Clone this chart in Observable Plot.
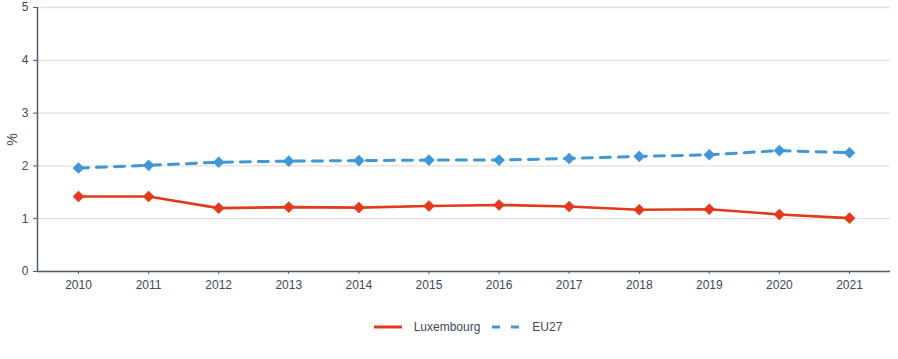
<!DOCTYPE html>
<html>
<head>
<meta charset="utf-8">
<script src="https://cdn.jsdelivr.net/npm/d3@7"></script>
<script src="https://cdn.jsdelivr.net/npm/@observablehq/plot@0.6"></script>
<style>
  html, body { margin: 0; padding: 0; background: #fff; }
  body { width: 898px; height: 359px; overflow: hidden; font-family: "Liberation Sans", Arial, sans-serif; }
  #legend { display: flex; justify-content: center; align-items: center; height: 22px; margin-top: 16px; padding-left: 38px; font-size: 12px; color: #3b4a5c; }
  #legend .item { display: flex; align-items: center; margin: 0 6px; }
  #legend svg { margin-right: 12px; }
  #chart svg text { font-size: 12px; }
</style>
</head>
<body>
<div id="chart"></div>
<div id="legend"></div>
<script>
const years = [2010, 2011, 2012, 2013, 2014, 2015, 2016, 2017, 2018, 2019, 2020, 2021];
const luxembourg = [1.42, 1.42, 1.20, 1.22, 1.21, 1.24, 1.26, 1.23, 1.17, 1.18, 1.08, 1.01];
const eu27 = [1.96, 2.01, 2.07, 2.09, 2.10, 2.11, 2.11, 2.14, 2.18, 2.21, 2.29, 2.25];
const seriesNames = ["Luxembourg", "EU27"];
const yTicks = [0, 1, 2, 3, 4, 5];

const colors = {Luxembourg: "#e2391b", EU27: "#3f97d6"};
const textColor = "#3b4a5c";
const axisColor = "#4e5f71";

const data = [];
years.forEach((y, i) => data.push({year: y, value: luxembourg[i], series: "Luxembourg"}));
years.forEach((y, i) => data.push({year: y, value: eu27[i], series: "EU27"}));
const lux = data.filter(d => d.series === "Luxembourg");
const eu = data.filter(d => d.series === "EU27");

const xDomain = [2009.415, 2021.585];

const chart = Plot.plot({
  width: 898,
  height: 300,
  marginLeft: 37,
  marginRight: 8,
  marginTop: 7,
  marginBottom: 29,
  style: {fontFamily: "'Liberation Sans', Arial, sans-serif", fontSize: "12px", color: textColor, background: "transparent"},
  x: {type: "linear", domain: xDomain},
  y: {domain: [0, 5]},
  marks: [
    Plot.gridY(yTicks, {stroke: "#e2e2e2", strokeOpacity: 1, strokeWidth: 1.3}),
    Plot.axisY(yTicks, {tickSize: 4, tickPadding: 5, stroke: axisColor, fill: textColor, fontSize: 12, tickFormat: d => String(d), label: null}),
    Plot.axisY({tickSize: 0, ticks: [], label: "%", labelAnchor: "center", labelArrow: "none", labelOffset: 30, fill: textColor}),
    Plot.axisX(years, {tickSize: 3, tickPadding: 6, stroke: axisColor, fill: textColor, fontSize: 12, tickFormat: d => String(d), label: null}),
    Plot.ruleX([xDomain[0]], {y1: 0, y2: 5, stroke: axisColor, strokeWidth: 1.5}),
    Plot.ruleY([0], {stroke: axisColor, strokeWidth: 1.5}),
    Plot.line(eu, {x: "year", y: "value", stroke: colors.EU27, strokeWidth: 3, strokeDasharray: "10,8"}),
    Plot.dot(eu, {x: "year", y: "value", symbol: "diamond2", r: 5, fill: colors.EU27, stroke: colors.EU27, strokeWidth: 0.5}),
    Plot.line(lux, {x: "year", y: "value", stroke: colors.Luxembourg, strokeWidth: 2.6}),
    Plot.dot(lux, {x: "year", y: "value", symbol: "diamond2", r: 5, fill: colors.Luxembourg, stroke: colors.Luxembourg, strokeWidth: 0.5})
  ]
});
document.getElementById("chart").appendChild(chart);
chart.querySelectorAll("g[aria-label='y-axis label'] text").forEach(t => t.style.fontSize = "14px");

const legend = document.getElementById("legend");
seriesNames.forEach(name => {
  const item = document.createElement("div");
  item.className = "item";
  const dash = name === "EU27" ? ' stroke-dasharray="8,11"' : "";
  item.innerHTML = `<svg width="28" height="8"><line x1="0" y1="4" x2="28" y2="4" stroke="${colors[name]}" stroke-width="3"${dash}/></svg><span>${name}</span>`;
  legend.appendChild(item);
});
</script>
</body>
</html>
